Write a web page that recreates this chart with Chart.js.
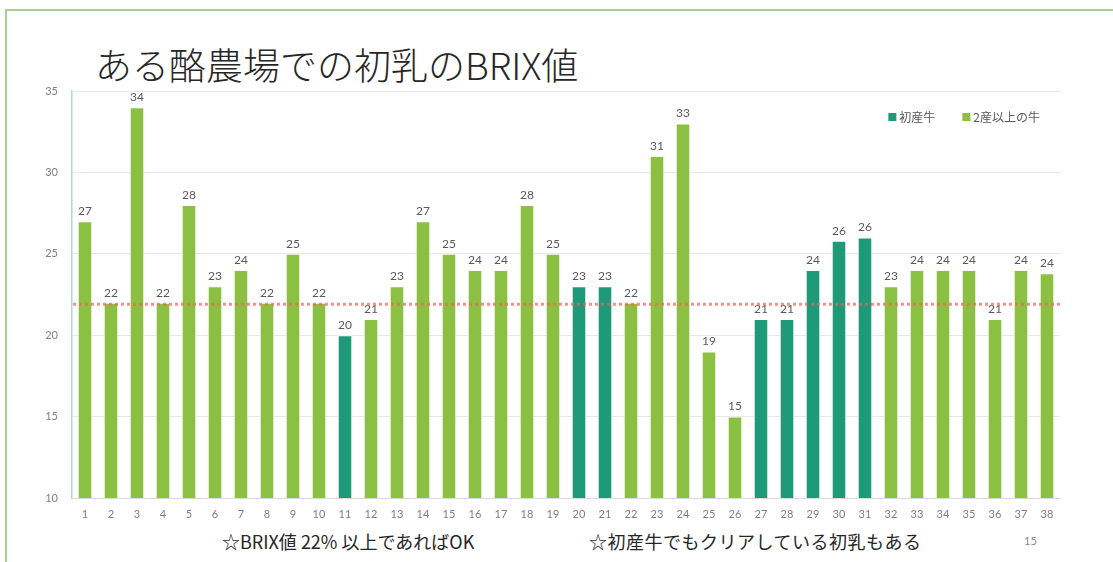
<!DOCTYPE html>
<html>
<head>
<meta charset="utf-8">
<script src="https://cdn.jsdelivr.net/npm/chart.js@4.4.1/dist/chart.umd.min.js"></script>
<style>
  html, body { margin: 0; padding: 0; background: #fff; }
  body { width: 1113px; height: 562px; position: relative; overflow: hidden; font-family: "Noto Sans CJK JP", sans-serif; }
  #frameTop { position: absolute; left: 5px; top: 9px; width: 1108px; height: 2px; background: #A9D18E; }
  #frameLeft { position: absolute; left: 5px; top: 9px; width: 2px; height: 553px; background: #A9D18E; }
  #title { position: absolute; left: 95px; top: 39px; font-size: 37px; font-weight: 300; color: #262626; white-space: nowrap; line-height: 50px; }
  .note { position: absolute; top: 528px; font-size: 18px; color: #262626; white-space: nowrap; line-height: 26px; }
  #pageNo { position: absolute; left: 1024px; top: 534px; font-size: 11px; color: #8C8C8C; font-family: Lato, sans-serif; }
  #wrap { position: absolute; left: 0; top: 0; width: 1113px; height: 562px; }
</style>
</head>
<body>
<div id="frameTop"></div>
<div id="frameLeft"></div>
<div id="title">ある酪農場での初乳のBRIX値</div>
<div class="note" style="left:222px;">☆BRIX値 22% 以上であればOK</div>
<div class="note" style="left:589px; letter-spacing:0.5px;">☆初産牛でもクリアしている初乳もある</div>
<div id="pageNo">15</div>
<div id="wrap"><canvas id="c" width="1113" height="562"></canvas></div>
<script>
// ---- data ----
const categories = ["1","2","3","4","5","6","7","8","9","10","11","12","13","14","15","16","17","18","19","20","21","22","23","24","25","26","27","28","29","30","31","32","33","34","35","36","37","38"];
const brixValues = [27,22,34,22,28,23,24,22,25,22,20,21,23,27,25,24,24,28,25,23,23,22,31,33,19,15,21,21,24,25.8,26,23,24,24,24,21,24,23.8];
const firstCalfCows = [11,20,21,27,28,29,30,31];
const seriesNames = ["初産牛", "2産以上の牛"];
const thresholdValue = [21.9];
const yTicks = [10, 15, 20, 25, 30, 35];

const firstCalfData = brixValues.map((v, i) => firstCalfCows.includes(i + 1) ? v : null);
const multiCalfData = brixValues.map((v, i) => firstCalfCows.includes(i + 1) ? null : v);

const TEAL = '#1F9A78';
const GREEN = '#8CC043';

const labelPlugin = {
  id: 'barLabels',
  afterDatasetsDraw(chart) {
    const ctx = chart.ctx;
    ctx.save();
    ctx.font = '12px Lato, "Noto Sans", sans-serif';
    ctx.fillStyle = '#595959';
    ctx.textAlign = 'center';
    ctx.textBaseline = 'bottom';
    chart.data.datasets.forEach((ds, di) => {
      const meta = chart.getDatasetMeta(di);
      meta.data.forEach((el, i) => {
        const v = ds.data[i];
        if (v === null || v === undefined) return;
        ctx.fillText(String(Math.round(v)), el.x, el.y - 4);
      });
    });
    ctx.restore();
  }
};

const thresholdPlugin = {
  id: 'threshold',
  afterDatasetsDraw(chart) {
    const y = chart.scales.y.getPixelForValue(thresholdValue[0]);
    const a = chart.chartArea;
    const ctx = chart.ctx;
    ctx.save();
    ctx.strokeStyle = 'rgba(240,100,90,0.7)';
    ctx.lineWidth = 3;
    ctx.setLineDash([3, 3]);
    ctx.beginPath();
    ctx.moveTo(a.left + 1, y);
    ctx.lineTo(a.right, y);
    ctx.stroke();
    ctx.restore();
  }
};

// legend drawn inside the plot area, top-right, from the dataset labels/colours
const legendPlugin = {
  id: 'insideLegend',
  afterDraw(chart) {
    const ctx = chart.ctx;
    const a = chart.chartArea;
    ctx.save();
    ctx.font = '12px "Noto Sans CJK JP", sans-serif';
    ctx.textBaseline = 'middle';
    ctx.textAlign = 'left';
    const box = 8, gapBox = 3, gapItem = 27;
    const items = chart.data.datasets.map(ds => ({ text: ds.label, color: ds.backgroundColor, w: ctx.measureText(ds.label).width }));
    let total = items.reduce((s, it) => s + box + gapBox + it.w, 0) + gapItem * (items.length - 1);
    let x = a.right - 20 - total;
    const y = a.top + 26;
    items.forEach(it => {
      ctx.fillStyle = it.color;
      ctx.fillRect(x, y - box / 2, box, box);
      x += box + gapBox;
      ctx.fillStyle = '#595959';
      ctx.fillText(it.text, x, y);
      x += it.w + gapItem;
    });
    ctx.restore();
  }
};

new Chart(document.getElementById('c'), {
  type: 'bar',
  data: {
    labels: categories,
    datasets: [
      { label: seriesNames[0], data: firstCalfData, backgroundColor: TEAL, borderColor: 'rgba(255,255,255,0.6)', borderWidth: 1, grouped: false, barPercentage: 0.56, categoryPercentage: 1 },
      { label: seriesNames[1], data: multiCalfData, backgroundColor: GREEN, borderColor: 'rgba(255,255,255,0.6)', borderWidth: 1, grouped: false, barPercentage: 0.56, categoryPercentage: 1 }
    ]
  },
  options: {
    responsive: false,
    animation: false,
    layout: { padding: { left: 0, right: 53, top: 91, bottom: 34 } },
    plugins: {
      title: { display: false },
      tooltip: { enabled: false },
      legend: { display: false }
    },
    scales: {
      x: {
        grid: { display: false, drawTicks: false },
        border: { color: '#D9D9D9' },
        ticks: { color: '#7F7F7F', font: { size: 11, family: 'Lato, sans-serif' }, padding: 10, maxRotation: 0, autoSkip: false },
        afterFit(scale) { scale.height = 30; }
      },
      y: {
        min: 10, max: 35,
        afterBuildTicks(scale) { scale.ticks = yTicks.map(v => ({ value: v })); },
        grid: { color: '#E8E8E8', drawTicks: false },
        border: { color: '#A8DCCB', width: 1.5 },
        ticks: { color: '#7F7F7F', font: { size: 11, family: 'Lato, sans-serif' }, padding: 14 },
        afterFit(scale) { scale.width = 72; }
      }
    }
  },
  plugins: [labelPlugin, thresholdPlugin, legendPlugin]
});
</script>
</body>
</html>
